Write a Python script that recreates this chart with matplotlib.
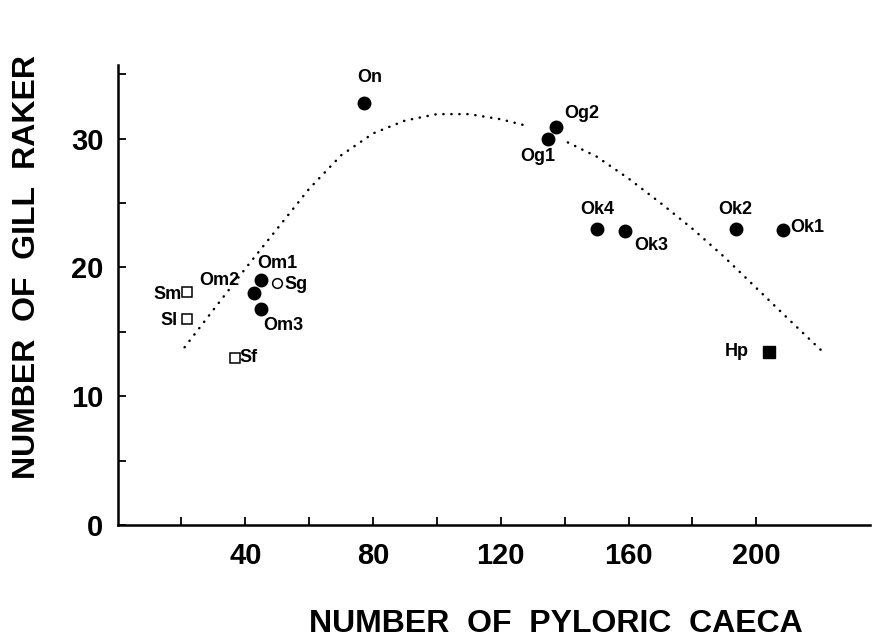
#!/usr/bin/env python3
"""
Gill rakers vs pyloric caeca scatter, with a dotted trend curve
"""

import matplotlib.pyplot as plt

plt.rcParams['font.family'] = ['Liberation Sans', 'DejaVu Sans']
plt.rcParams['font.weight'] = 'bold'

# filled circles
circ_names = ['On', 'Og1', 'Og2', 'Ok4', 'Ok3', 'Ok2', 'Ok1', 'Om1', 'Om2', 'Om3']
circ_x = [77.3, 134.7, 137.4, 150.2, 159.0, 193.5, 208.2, 44.9, 42.8, 44.9]
circ_y = [32.8, 30.0, 30.9, 23.0, 22.8, 23.0, 22.9, 19.0, 18.0, 16.8]

# open circle
open_circ_names = ['Sg']
open_circ_x = [49.9]
open_circ_y = [18.8]

# open squares
sq_names = ['Sm', 'Sl', 'Sf']
sq_x = [21.7, 21.9, 36.8]
sq_y = [18.1, 16.0, 13.0]

# filled square
fsq_names = ['Hp']
fsq_x = [204.0]
fsq_y = [13.4]

curve_left_x = [21, 30, 40, 50, 60, 70, 80, 90, 100, 110, 120, 128]
curve_left_y = [13.8, 16.7, 19.9, 23.0, 26.1, 28.7, 30.4, 31.4, 31.9, 31.9, 31.5, 31.0]
curve_right_x = [141, 150, 160, 170, 180, 190, 200, 210, 221]
curve_right_y = [29.7, 28.6, 26.9, 25.0, 23.0, 20.8, 18.4, 16.0, 13.4]

x_major = [40, 80, 120, 160, 200]
x_minor = [20, 60, 100, 140, 180]
y_major = [0, 10, 20, 30]
y_minor = [5, 15, 25, 35]

# label offsets in points (dx, dy, ha)
label_pos = {
    'On': (3.5, 18, 'center'),
    'Og1': (-7, -13, 'center'),
    'Og2': (6, 9.5, 'left'),
    'Ok4': (0, 14, 'center'),
    'Ok3': (18.5, -10.5, 'center'),
    'Ok2': (0, 14, 'center'),
    'Ok1': (5.5, 1.5, 'left'),
    'Om1': (12, 12, 'center'),
    'Om2': (-25, 9, 'center'),
    'Om3': (16, -12, 'center'),
    'Sg': (5.5, -1, 'left'),
    'Sm': (-3.5, -2, 'right'),
    'Sl': (-7, -1, 'right'),
    'Sf': (3.5, 0, 'left'),
    'Hp': (-14.5, 1, 'right'),
}

fig = plt.figure(figsize=(8.73, 6.44), dpi=100)
ax = fig.add_axes([0.1346, 0.1848, 0.862, 0.714])

# trend curve
for cx, cy in [(curve_left_x, curve_left_y), (curve_right_x, curve_right_y)]:
    ax.plot(cx, cy, color='black', lw=1.8, linestyle=(0, (0.1, 3.1)),
            dash_capstyle='round')

ax.plot(circ_x, circ_y, 'o', color='black', ms=9, ls='none')
ax.plot(open_circ_x, open_circ_y, 'o', mfc='white', mec='black', mew=1.1, ms=7, ls='none')
ax.plot(sq_x, sq_y, 's', mfc='white', mec='black', mew=1.1, ms=6.5, ls='none')
ax.plot(fsq_x, fsq_y, 's', color='black', ms=9, ls='none')

# point labels
all_names = circ_names + open_circ_names + sq_names + fsq_names
all_x = circ_x + open_circ_x + sq_x + fsq_x
all_y = circ_y + open_circ_y + sq_y + fsq_y
for name, px, py in zip(all_names, all_x, all_y):
    dx, dy, ha = label_pos[name]
    ax.annotate(name, (px, py), xytext=(dx, dy), textcoords='offset points',
                ha=ha, va='center', fontsize=13, fontweight='bold')

# axes styling
ax.set_xlim(0, 235.6)
ax.set_ylim(0, 35.7)
for side in ['top', 'right']:
    ax.spines[side].set_visible(False)
for side in ['left', 'bottom']:
    ax.spines[side].set_linewidth(1.8)

ax.set_xticks(x_major)
ax.set_xticks(x_minor, minor=True)
ax.set_yticks(y_major)
ax.set_yticks(y_minor, minor=True)
ax.tick_params(which='both', direction='in', length=6, width=1.3)
ax.tick_params(axis='x', which='major', pad=12, labelsize=21)
ax.tick_params(axis='y', which='major', pad=10, labelsize=21)
for lbl in ax.get_xticklabels() + ax.get_yticklabels():
    lbl.set_fontweight('bold')

fig.text(0.637, 0.031, 'NUMBER  OF  PYLORIC  CAECA', ha='center', va='center',
         fontsize=23, fontweight='bold')
fig.text(0.031, 0.585, 'NUMBER  OF  GILL  RAKER', ha='center', va='center',
         rotation=90, fontsize=23, fontweight='bold')

fig.savefig('out.png', dpi=100)
